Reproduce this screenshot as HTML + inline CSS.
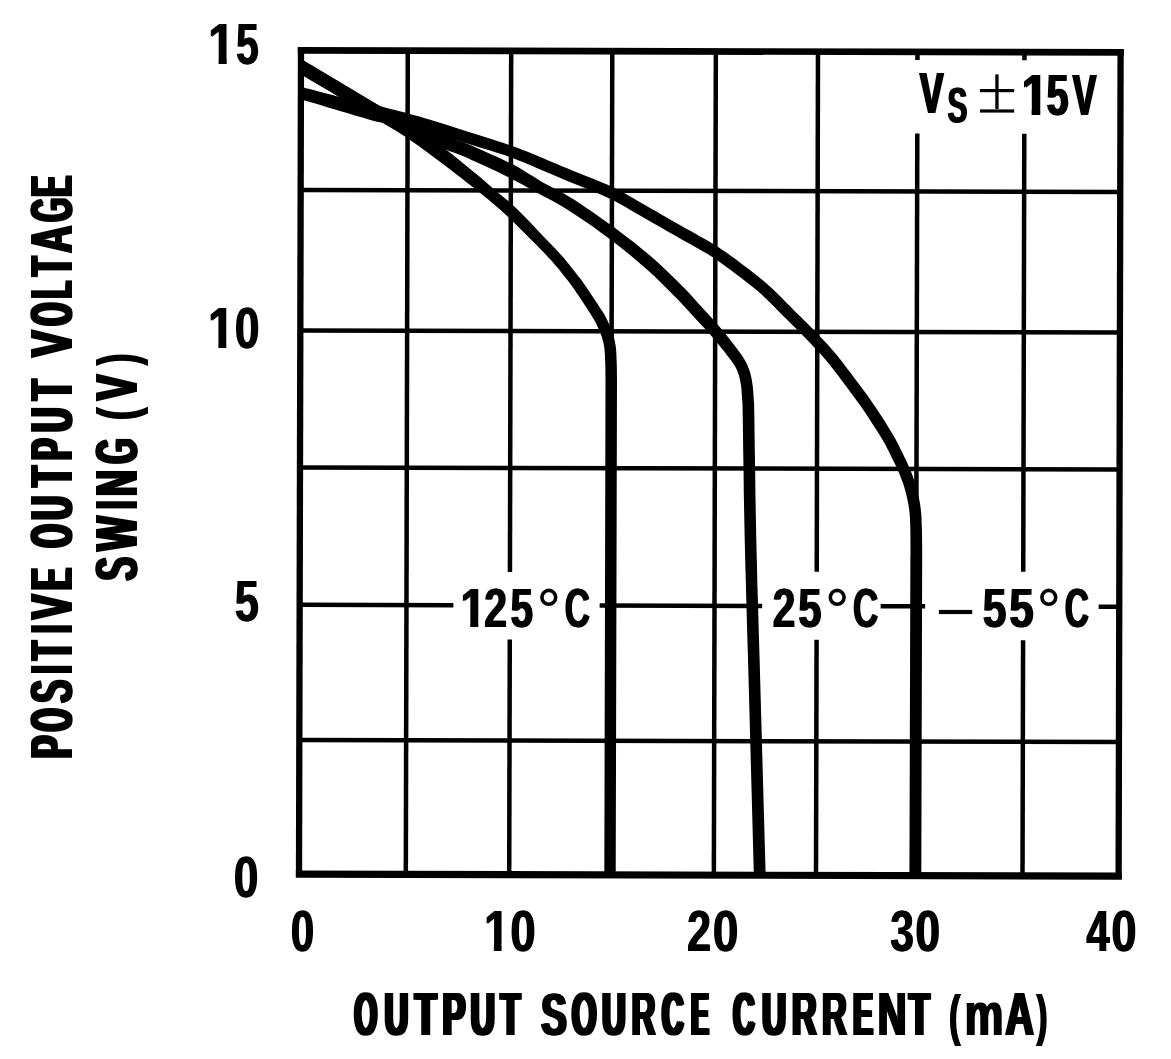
<!DOCTYPE html>
<html><head><meta charset="utf-8"><title>Positive Output Voltage Swing vs Output Source Current</title>
<style>
html,body{margin:0;padding:0;background:#fff;overflow:hidden}
svg{display:block}
text{font-family:"Liberation Sans",sans-serif;font-weight:700;font-size:100px;fill:#000}
</style></head><body>
<svg width="1171" height="1059" viewBox="0 0 1171 1059">
<defs>
<clipPath id="plot"><rect x="300.00" y="51.40" width="819.60" height="826.55"/></clipPath>
<clipPath id="one"><path d="M0 -80H60V-11.2H37.3V2H23.1V-11.2H0Z"/></clipPath>
</defs>
<rect x="0" y="0" width="1171" height="1059" fill="#fff"/>
<g transform="rotate(0.1375 710.0 463.0)" fill="#000">
<rect x="296.85" y="48.25" width="6.30" height="829.70"/>
<rect x="1116.45" y="48.25" width="6.30" height="829.70"/>
<rect x="296.85" y="48.05" width="825.90" height="6.70"/>
<rect x="296.85" y="871.55" width="825.90" height="7.10"/>
<rect x="404.55" y="51.40" width="4.50" height="823.40"/>
<rect x="507.95" y="51.40" width="4.50" height="521.10"/>
<rect x="507.95" y="640.00" width="4.50" height="234.80"/>
<rect x="609.05" y="51.40" width="4.50" height="823.40"/>
<rect x="712.60" y="51.40" width="4.50" height="823.40"/>
<rect x="814.75" y="51.40" width="4.50" height="520.10"/>
<rect x="814.75" y="639.50" width="4.50" height="235.30"/>
<rect x="914.25" y="51.40" width="4.50" height="8.10"/>
<rect x="914.25" y="133.00" width="4.50" height="741.80"/>
<rect x="1021.25" y="51.40" width="4.50" height="8.10"/>
<rect x="1021.25" y="133.00" width="4.50" height="438.00"/>
<rect x="1021.25" y="639.50" width="4.50" height="235.30"/>
<rect x="300.00" y="188.65" width="819.60" height="4.50"/>
<rect x="300.00" y="329.35" width="819.60" height="4.50"/>
<rect x="300.00" y="466.15" width="819.60" height="4.50"/>
<rect x="300.00" y="603.55" width="153.70" height="4.50"/>
<rect x="600.00" y="603.55" width="162.50" height="4.50"/>
<rect x="881.00" y="603.55" width="44.50" height="4.50"/>
<rect x="1099.00" y="603.55" width="20.60" height="4.50"/>
<rect x="300.00" y="738.75" width="819.60" height="4.50"/>
<g fill="#000" stroke="none" clip-path="url(#plot)">
<path d="M295.2 72.2 295.8 72.5 303.0 61.7 295.9 72.6 296.2 72.8 297.5 73.5 300.1 75.1 304.3 77.5 309.6 80.7 315.8 84.4 322.5 88.4 329.3 92.4 335.8 96.3 342.1 100.1 348.7 104.0 355.4 107.9 362.0 111.9 368.4 115.7 374.5 119.4 380.3 122.8 385.7 126.0 390.9 129.0 395.9 132.0 401.0 135.2 406.3 138.6 411.8 142.4 417.6 146.4 423.3 150.6 429.1 154.9 434.8 159.1 440.2 163.2 445.5 167.1 450.8 171.1 455.9 175.1 460.9 178.9 465.5 182.5 469.7 185.8 473.4 188.6 476.5 191.1 479.3 193.4 482.0 195.5 484.7 197.7 487.7 200.1 490.7 202.7 493.6 205.1 496.4 207.5 499.4 210.0 502.6 212.9 506.3 216.3 510.7 220.4 515.6 225.2 520.9 230.4 526.2 235.6 531.1 240.6 535.5 245.0 539.3 248.8 542.6 252.2 545.6 255.4 548.4 258.3 551.1 261.2 553.6 264.0 556.0 266.8 558.2 269.4 560.3 272.0 562.3 274.5 564.1 276.9 565.9 279.2 567.5 281.2 568.8 282.8 569.8 284.2 570.9 285.6 572.3 287.5 574.0 289.9 576.3 293.3 579.1 297.4 582.0 301.9 585.0 306.4 587.7 310.5 589.9 313.9 591.4 316.3 592.6 318.2 593.4 319.5 594.1 320.7 594.8 321.9 595.6 323.4 596.4 325.1 597.3 326.9 598.1 328.7 598.9 330.4 599.7 332.2 600.3 333.8 600.9 335.4 601.4 336.9 601.9 338.4 602.3 339.9 602.7 341.4 603.1 343.0 603.4 344.5 603.7 345.9 603.9 347.3 604.1 348.8 604.3 350.7 604.5 353.1 604.7 356.1 604.8 359.5 605.0 363.3 605.1 367.3 605.2 371.3 605.2 375.3 605.3 379.3 605.3 383.4 605.3 387.6 605.3 391.8 605.3 396.0 605.3 400.2 605.3 877.2 616.7 877.2 616.8 400.2 616.8 396.1 616.8 391.8 616.8 387.6 616.8 383.4 616.8 379.2 616.7 375.1 616.7 371.1 616.6 367.0 616.5 362.9 616.3 359.1 616.2 355.5 616.0 352.3 615.8 349.7 615.6 347.5 615.3 345.6 615.0 343.9 614.7 342.2 614.3 340.5 613.9 338.7 613.4 336.9 612.9 335.1 612.4 333.3 611.7 331.5 611.1 329.7 610.3 327.8 609.5 325.8 608.6 323.9 607.7 321.9 606.7 320.0 605.7 318.1 604.9 316.5 604.1 315.0 603.2 313.6 602.3 312.1 601.0 310.2 599.4 307.7 597.2 304.3 594.5 300.2 591.5 295.7 588.4 291.1 585.6 287.0 583.2 283.5 581.3 280.9 579.8 278.9 578.5 277.3 577.3 275.8 576.1 274.3 574.6 272.4 572.8 270.2 570.9 267.8 568.9 265.2 566.7 262.5 564.4 259.7 561.8 256.7 559.2 253.8 556.5 250.8 553.6 247.8 550.5 244.6 547.1 241.1 543.4 237.3 539.1 232.8 534.2 227.7 529.1 222.3 523.9 217.0 518.9 212.0 514.5 207.6 510.6 204.1 507.1 201.1 503.9 198.4 500.9 196.0 498.0 193.7 495.1 191.3 492.2 188.8 489.6 186.5 487.0 184.2 484.2 181.8 481.1 179.1 477.5 176.1 473.4 172.7 468.8 169.0 463.9 165.0 458.8 160.8 453.5 156.7 448.2 152.5 442.7 148.4 436.9 144.2 431.1 140.0 425.1 135.8 419.2 131.7 413.5 127.8 408.0 124.2 402.7 120.9 397.5 117.8 392.2 114.7 386.9 111.6 381.2 108.2 375.1 104.6 368.7 100.7 362.0 96.8 355.4 92.8 348.8 88.9 342.4 85.1 336.0 81.2 329.2 77.2 322.5 73.2 316.3 69.5 310.9 66.3 306.8 63.9 304.2 62.3 302.8 61.6 302.3 61.2 295.1 72.0 302.2 61.2 301.8 61.0Z"/>
<path d="M295.3 72.8 296.0 73.2 303.4 62.7 296.1 73.2 296.3 73.4 297.6 74.1 300.2 75.6 304.3 78.0 309.7 81.1 315.9 84.7 322.6 88.6 329.4 92.5 335.8 96.3 342.2 100.0 348.8 104.0 355.6 108.1 362.3 112.1 368.7 115.8 374.8 119.1 380.2 121.9 385.2 124.3 389.8 126.4 394.3 128.4 399.0 130.4 404.1 132.7 410.1 135.3 416.7 138.2 423.5 141.2 430.2 144.1 436.4 146.7 441.7 148.9 446.1 150.7 449.8 152.1 452.9 153.2 455.6 154.2 458.2 155.1 460.8 156.1 463.4 157.2 465.7 158.2 467.9 159.1 470.2 160.2 473.0 161.5 476.5 163.1 480.9 165.0 485.9 167.3 491.2 169.7 496.7 172.3 502.1 174.9 507.2 177.4 512.1 179.9 516.9 182.4 521.7 185.0 526.5 187.6 531.4 190.3 536.5 193.1 541.5 195.8 546.3 198.4 551.2 200.9 556.1 203.6 561.3 206.5 566.9 210.0 573.1 214.0 579.9 218.5 587.0 223.4 594.2 228.4 601.2 233.4 607.8 238.2 614.1 243.0 620.2 247.7 626.1 252.4 631.9 257.1 637.5 261.8 643.0 266.6 648.5 271.4 654.0 276.5 659.3 281.6 664.4 286.6 669.2 291.3 673.4 295.5 677.0 299.1 680.0 302.2 682.6 305.0 685.1 307.7 687.7 310.6 690.6 313.7 693.8 317.2 697.1 320.7 700.5 324.4 703.9 328.0 707.1 331.6 710.2 335.0 713.1 338.3 715.9 341.7 718.7 344.9 721.3 348.1 723.8 351.2 726.0 354.1 728.2 356.9 730.1 359.4 731.8 361.8 733.3 364.0 734.7 366.2 735.9 368.3 736.9 370.5 737.8 372.6 738.5 374.7 739.1 376.9 739.7 379.3 740.2 381.9 740.7 384.6 741.1 387.5 741.4 390.6 741.6 393.8 741.8 397.0 742.1 400.3 742.2 402.6 742.3 403.5 742.4 403.8 742.4 405.9 742.5 410.9 742.7 420.0 742.9 434.0 743.2 451.8 743.6 472.5 743.9 494.8 744.4 517.7 744.9 540.0 745.5 562.2 746.2 585.3 746.9 608.8 747.6 632.7 748.4 656.5 749.1 680.1 754.9 877.1 766.7 876.7 760.7 679.7 760.0 656.1 759.2 632.3 758.5 608.5 757.7 584.9 757.1 561.9 756.5 539.8 756.0 517.5 755.5 494.6 755.2 472.3 754.8 451.7 754.5 433.8 754.3 419.8 754.1 410.7 754.0 405.7 754.0 403.4 753.9 402.1 753.8 401.5 753.6 399.5 753.4 396.2 753.2 392.9 752.9 389.5 752.6 386.2 752.1 382.9 751.6 379.7 751.0 376.8 750.3 374.0 749.6 371.3 748.6 368.6 747.5 365.9 746.3 363.1 744.8 360.3 743.1 357.7 741.4 355.0 739.5 352.4 737.5 349.8 735.4 347.0 733.1 343.9 730.6 340.7 728.0 337.4 725.2 334.0 722.3 330.5 719.4 327.0 716.3 323.4 712.9 319.7 709.6 316.0 706.2 312.3 702.8 308.7 699.7 305.3 696.9 302.2 694.3 299.4 691.8 296.6 689.1 293.6 686.0 290.4 682.3 286.6 678.0 282.4 673.2 277.6 668.0 272.6 662.5 267.4 656.9 262.2 651.2 257.1 645.5 252.3 639.7 247.6 633.7 242.8 627.6 238.1 621.3 233.4 614.9 228.6 608.1 223.7 601.0 218.7 593.8 213.6 586.6 208.7 579.7 204.0 573.3 199.9 567.3 196.3 561.9 193.2 556.7 190.4 551.8 187.9 547.0 185.4 542.2 182.8 537.4 179.9 532.7 177.0 528.0 174.1 523.2 171.2 518.4 168.3 513.4 165.5 508.0 162.9 502.4 160.2 496.7 157.6 491.3 155.2 486.3 153.0 482.0 151.0 478.5 149.5 475.6 148.2 473.1 147.1 470.8 146.1 468.4 145.1 465.7 144.1 462.7 142.9 460.0 141.9 457.2 141.0 454.3 139.9 450.9 138.6 446.7 136.9 441.5 134.7 435.4 132.1 428.7 129.3 421.9 126.3 415.4 123.4 409.4 120.8 404.2 118.5 399.5 116.4 395.0 114.5 390.7 112.5 386.1 110.3 380.9 107.7 375.1 104.5 368.8 100.8 362.2 96.9 355.5 92.9 348.8 88.9 342.4 85.1 335.9 81.3 329.1 77.4 322.4 73.5 316.2 69.9 310.8 66.7 306.7 64.3 304.1 62.8 302.8 62.1 302.1 61.7 294.6 72.2 302.0 61.7 301.8 61.5Z"/>
<path d="M297.2 99.7 298.2 99.9 300.2 99.9 298.4 99.9 298.5 99.9 299.6 100.2 301.9 100.9 305.5 101.9 310.0 103.3 315.3 104.8 321.1 106.5 327.2 108.3 333.4 110.1 340.0 112.1 347.2 114.2 354.8 116.5 362.4 118.7 369.5 120.8 376.0 122.6 381.9 123.6 387.1 124.3 391.8 124.8 396.2 125.3 400.6 125.8 405.3 126.6 410.3 127.8 415.4 129.1 420.6 130.5 426.0 132.0 431.6 133.6 437.5 135.3 443.8 137.1 450.6 139.2 457.6 141.3 464.5 143.5 471.3 145.6 477.5 147.5 483.3 149.3 488.6 150.9 493.7 152.5 498.7 154.0 503.5 155.6 508.4 157.3 513.2 159.0 518.0 160.9 522.7 162.8 527.4 164.7 532.2 166.7 537.1 168.8 542.0 170.8 546.8 172.8 551.6 174.9 556.7 177.1 562.0 179.4 567.8 181.8 574.2 184.4 581.1 187.1 588.2 189.9 595.3 192.8 602.2 195.7 608.7 198.7 614.9 201.8 620.9 205.0 626.9 208.4 632.7 211.9 638.5 215.2 644.2 218.5 649.7 221.6 655.1 224.7 660.4 227.7 665.5 230.6 670.3 233.4 674.9 235.9 679.1 238.3 683.0 240.5 686.7 242.5 690.2 244.4 693.4 246.3 696.6 248.1 699.6 249.7 702.1 251.2 704.5 252.5 706.8 253.8 709.3 255.4 712.3 257.3 715.7 259.7 719.5 262.3 723.6 265.2 727.7 268.2 731.9 271.3 736.0 274.4 740.2 277.5 744.3 280.6 748.4 283.8 752.6 287.1 756.7 290.5 760.7 294.0 764.8 297.8 769.1 301.8 773.3 306.1 777.5 310.3 781.6 314.5 785.6 318.4 789.2 322.0 792.6 325.4 795.9 328.6 799.1 331.8 802.3 335.0 805.5 338.3 808.9 341.8 812.2 345.2 815.6 348.7 818.9 352.2 822.1 355.8 825.3 359.5 828.5 363.3 831.6 367.2 834.7 371.2 837.9 375.3 841.0 379.5 844.2 383.7 847.4 387.9 850.5 392.1 853.7 396.3 856.8 400.6 860.0 404.9 863.1 409.4 866.3 414.2 869.7 419.3 873.1 424.5 876.4 429.6 879.4 434.4 882.0 438.6 884.1 442.1 885.8 445.2 887.2 448.0 888.6 450.6 889.9 453.3 891.3 456.2 892.7 459.0 894.1 461.9 895.5 464.6 896.8 467.3 898.0 470.1 899.2 472.8 900.3 475.5 901.3 478.2 902.3 480.9 903.3 483.6 904.2 486.4 905.0 489.1 905.8 492.0 906.5 494.8 907.2 497.7 907.8 500.6 908.4 503.5 908.9 506.4 909.3 509.2 909.6 511.8 909.8 514.4 910.1 517.3 910.2 520.7 910.4 524.7 910.5 529.5 910.6 535.1 910.6 541.1 910.7 547.3 910.7 553.5 910.6 559.5 910.4 876.5 922.3 876.5 922.4 559.5 922.4 553.5 922.4 547.2 922.3 541.0 922.2 534.9 922.1 529.3 921.9 524.3 921.7 520.1 921.6 516.6 921.4 513.5 921.1 510.6 920.8 507.7 920.3 504.6 919.8 501.4 919.2 498.2 918.5 495.1 917.8 492.0 917.0 488.9 916.1 485.9 915.2 482.9 914.3 479.9 913.2 477.0 912.2 474.1 911.1 471.2 909.9 468.3 908.6 465.4 907.3 462.5 905.9 459.6 904.5 456.7 903.1 453.8 901.7 450.9 900.3 448.2 899.0 445.5 897.6 442.7 896.0 439.7 894.1 436.4 891.9 432.6 889.2 428.2 886.2 423.4 882.9 418.2 879.4 412.9 876.0 407.7 872.6 402.8 869.4 398.2 866.2 393.7 863.0 389.4 859.8 385.1 856.6 380.9 853.4 376.7 850.3 372.5 847.1 368.3 843.9 364.1 840.7 360.0 837.5 355.9 834.2 352.0 830.8 348.1 827.4 344.3 824.0 340.7 820.6 337.2 817.2 333.7 813.9 330.2 810.5 326.8 807.3 323.6 804.1 320.4 800.8 317.1 797.3 313.8 793.7 310.2 789.9 306.3 785.8 302.2 781.5 297.9 777.2 293.6 772.8 289.3 768.4 285.3 764.1 281.6 759.8 278.1 755.6 274.7 751.3 271.4 747.2 268.2 743.0 265.1 738.8 262.0 734.6 258.8 730.3 255.7 726.2 252.8 722.3 250.1 718.7 247.7 715.5 245.6 712.7 243.9 710.2 242.4 707.8 241.0 705.2 239.6 702.4 238.0 699.1 236.2 695.8 234.3 692.3 232.4 688.7 230.3 684.8 228.2 680.6 225.8 676.1 223.3 671.2 220.5 666.1 217.6 660.8 214.6 655.4 211.5 649.8 208.4 644.3 205.2 638.6 201.9 632.7 198.4 626.6 194.9 620.3 191.5 613.8 188.2 606.9 185.1 599.7 182.0 592.5 179.1 585.3 176.3 578.5 173.6 572.2 171.1 566.5 168.7 561.2 166.5 556.1 164.3 551.2 162.3 546.4 160.3 541.4 158.2 536.5 156.2 531.7 154.3 526.9 152.3 522.1 150.4 517.2 148.5 512.1 146.7 507.1 144.9 502.1 143.3 497.1 141.7 492.0 140.1 486.6 138.4 480.9 136.6 474.7 134.6 468.0 132.5 461.0 130.3 454.0 128.1 447.2 126.0 440.9 124.0 435.0 122.2 429.4 120.5 424.0 118.9 418.7 117.3 413.4 115.9 408.2 114.5 403.2 113.1 398.6 111.9 394.2 110.8 389.7 109.7 385.0 108.5 379.7 107.0 373.3 105.7 366.1 104.1 358.5 102.4 350.9 100.6 343.5 98.9 336.8 97.3 330.6 95.7 324.5 94.1 318.7 92.6 313.4 91.2 308.8 90.0 305.1 89.1 302.7 88.4 301.3 88.1 300.3 87.9 298.3 87.9 300.1 87.9 300.0 87.9Z"/>
</g>
</g>
<g fill="#000" opacity="0.999">
<text clip-path="url(#one)" transform="matrix(0.4797 0 0 0.5712 207.52 64.20)">1</text>
<text clip-path="url(#one)" transform="matrix(0.4797 0 0 0.5712 208.82 64.20)">1</text>
<text transform="matrix(0.4060 0 0 0.5712 235.55 64.20)">5</text>
<text transform="matrix(0.4060 0 0 0.5712 236.85 64.20)">5</text>
<text clip-path="url(#one)" transform="matrix(0.4665 0 0 0.5785 207.61 347.70)">1</text>
<text clip-path="url(#one)" transform="matrix(0.4665 0 0 0.5785 208.91 347.70)">1</text>
<text transform="matrix(0.4416 0 0 0.5785 234.25 347.70)">0</text>
<text transform="matrix(0.4416 0 0 0.5785 235.55 347.70)">0</text>
<text transform="matrix(0.4301 0 0 0.5727 234.28 621.30)">5</text>
<text transform="matrix(0.4301 0 0 0.5727 235.58 621.30)">5</text>
<text transform="matrix(0.4395 0 0 0.5785 233.26 896.70)">0</text>
<text transform="matrix(0.4395 0 0 0.5785 234.56 896.70)">0</text>
<text transform="matrix(0.4184 0 0 0.5785 290.25 950.60)">0</text>
<text transform="matrix(0.4184 0 0 0.5785 291.55 950.60)">0</text>
<text clip-path="url(#one)" transform="matrix(0.4533 0 0 0.5785 483.40 950.60)">1</text>
<text clip-path="url(#one)" transform="matrix(0.4533 0 0 0.5785 484.70 950.60)">1</text>
<text transform="matrix(0.4542 0 0 0.5785 509.70 950.60)">0</text>
<text transform="matrix(0.4542 0 0 0.5785 511.00 950.60)">0</text>
<text transform="matrix(0.4300 0 0 0.5785 686.51 950.60)">2</text>
<text transform="matrix(0.4300 0 0 0.5785 687.81 950.60)">2</text>
<text transform="matrix(0.4584 0 0 0.5785 712.19 950.60)">0</text>
<text transform="matrix(0.4584 0 0 0.5785 713.49 950.60)">0</text>
<text transform="matrix(0.4225 0 0 0.5785 889.73 950.60)">3</text>
<text transform="matrix(0.4225 0 0 0.5785 891.03 950.60)">3</text>
<text transform="matrix(0.4395 0 0 0.5785 914.86 950.60)">0</text>
<text transform="matrix(0.4395 0 0 0.5785 916.16 950.60)">0</text>
<text transform="matrix(0.4145 0 0 0.5785 1085.87 950.60)">4</text>
<text transform="matrix(0.4145 0 0 0.5785 1087.17 950.60)">4</text>
<text transform="matrix(0.4521 0 0 0.5785 1110.71 950.60)">0</text>
<text transform="matrix(0.4521 0 0 0.5785 1112.01 950.60)">0</text>
<text transform="matrix(0.2936 0 0 0.6018 352.40 1035.20)">O</text>
<text transform="matrix(0.2936 0 0 0.6018 354.30 1035.20)">O</text>
<text transform="matrix(0.2936 0 0 0.6018 356.20 1035.20)">O</text>
<text transform="matrix(0.3277 0 0 0.6018 382.63 1035.20)">U</text>
<text transform="matrix(0.3277 0 0 0.6018 384.53 1035.20)">U</text>
<text transform="matrix(0.3277 0 0 0.6018 386.43 1035.20)">U</text>
<text transform="matrix(0.3515 0 0 0.6018 413.11 1035.20)">T</text>
<text transform="matrix(0.3515 0 0 0.6018 415.01 1035.20)">T</text>
<text transform="matrix(0.3515 0 0 0.6018 416.91 1035.20)">T</text>
<text transform="matrix(0.3410 0 0 0.6018 440.72 1035.20)">P</text>
<text transform="matrix(0.3410 0 0 0.6018 442.62 1035.20)">P</text>
<text transform="matrix(0.3410 0 0 0.6018 444.52 1035.20)">P</text>
<text transform="matrix(0.3361 0 0 0.6018 468.78 1035.20)">U</text>
<text transform="matrix(0.3361 0 0 0.6018 470.68 1035.20)">U</text>
<text transform="matrix(0.3361 0 0 0.6018 472.58 1035.20)">U</text>
<text transform="matrix(0.3227 0 0 0.6018 498.64 1035.20)">T</text>
<text transform="matrix(0.3227 0 0 0.6018 500.54 1035.20)">T</text>
<text transform="matrix(0.3227 0 0 0.6018 502.44 1035.20)">T</text>
<text transform="matrix(0.3789 0 0 0.6018 539.81 1035.20)">S</text>
<text transform="matrix(0.3789 0 0 0.6018 541.41 1035.20)">S</text>
<text transform="matrix(0.3789 0 0 0.6018 543.01 1035.20)">S</text>
<text transform="matrix(0.3166 0 0 0.6018 569.90 1035.20)">O</text>
<text transform="matrix(0.3166 0 0 0.6018 571.80 1035.20)">O</text>
<text transform="matrix(0.3166 0 0 0.6018 573.70 1035.20)">O</text>
<text transform="matrix(0.3261 0 0 0.6018 600.24 1035.20)">U</text>
<text transform="matrix(0.3261 0 0 0.6018 602.14 1035.20)">U</text>
<text transform="matrix(0.3261 0 0 0.6018 604.04 1035.20)">U</text>
<text transform="matrix(0.3324 0 0 0.6018 629.88 1035.20)">R</text>
<text transform="matrix(0.3324 0 0 0.6018 631.48 1035.20)">R</text>
<text transform="matrix(0.3324 0 0 0.6018 633.08 1035.20)">R</text>
<text transform="matrix(0.2983 0 0 0.6018 660.08 1035.20)">C</text>
<text transform="matrix(0.2983 0 0 0.6018 661.98 1035.20)">C</text>
<text transform="matrix(0.2983 0 0 0.6018 663.88 1035.20)">C</text>
<text transform="matrix(0.2602 0 0 0.6018 689.36 1035.20)">E</text>
<text transform="matrix(0.2602 0 0 0.6018 691.26 1035.20)">E</text>
<text transform="matrix(0.2602 0 0 0.6018 693.16 1035.20)">E</text>
<text transform="matrix(0.2983 0 0 0.6018 731.28 1035.20)">C</text>
<text transform="matrix(0.2983 0 0 0.6018 733.18 1035.20)">C</text>
<text transform="matrix(0.2983 0 0 0.6018 735.08 1035.20)">C</text>
<text transform="matrix(0.3311 0 0 0.6018 760.31 1035.20)">U</text>
<text transform="matrix(0.3311 0 0 0.6018 762.21 1035.20)">U</text>
<text transform="matrix(0.3311 0 0 0.6018 764.11 1035.20)">U</text>
<text transform="matrix(0.3434 0 0 0.6018 790.20 1035.20)">R</text>
<text transform="matrix(0.3434 0 0 0.6018 791.80 1035.20)">R</text>
<text transform="matrix(0.3434 0 0 0.6018 793.40 1035.20)">R</text>
<text transform="matrix(0.3434 0 0 0.6018 820.40 1035.20)">R</text>
<text transform="matrix(0.3434 0 0 0.6018 822.00 1035.20)">R</text>
<text transform="matrix(0.3434 0 0 0.6018 823.60 1035.20)">R</text>
<text transform="matrix(0.2959 0 0 0.6018 851.22 1035.20)">E</text>
<text transform="matrix(0.2959 0 0 0.6018 853.12 1035.20)">E</text>
<text transform="matrix(0.2959 0 0 0.6018 855.02 1035.20)">E</text>
<text transform="matrix(0.3946 0 0 0.6018 876.46 1035.20)">N</text>
<text transform="matrix(0.3946 0 0 0.6018 877.86 1035.20)">N</text>
<text transform="matrix(0.3946 0 0 0.6018 879.26 1035.20)">N</text>
<text transform="matrix(0.3311 0 0 0.6018 907.33 1035.20)">T</text>
<text transform="matrix(0.3311 0 0 0.6018 909.23 1035.20)">T</text>
<text transform="matrix(0.3311 0 0 0.6018 911.13 1035.20)">T</text>
<text transform="matrix(0.4348 0 0 0.6018 963.83 1035.20)">m</text>
<text transform="matrix(0.4348 0 0 0.6018 965.83 1035.20)">m</text>
<text transform="matrix(0.3905 0 0 0.6018 1004.03 1035.20)">A</text>
<text transform="matrix(0.3905 0 0 0.6018 1005.53 1035.20)">A</text>
<text transform="matrix(0.3905 0 0 0.6018 1007.03 1035.20)">A</text>
<text transform="matrix(0.3437 0 0 0.5600 948.19 1034.08)">(</text>
<text transform="matrix(0.3437 0 0 0.5600 949.79 1034.08)">(</text>
<text transform="matrix(0.3224 0 0 0.5600 1035.87 1034.08)">)</text>
<text transform="matrix(0.3224 0 0 0.5600 1037.47 1034.08)">)</text>
<text clip-path="url(#one)" transform="matrix(0.4533 0 0 0.5640 459.80 626.90)">1</text>
<text clip-path="url(#one)" transform="matrix(0.4533 0 0 0.5640 461.40 626.90)">1</text>
<text transform="matrix(0.4092 0 0 0.5640 483.38 626.90)">2</text>
<text transform="matrix(0.4092 0 0 0.5640 484.98 626.90)">2</text>
<text transform="matrix(0.4060 0 0 0.5640 509.75 626.90)">5</text>
<text transform="matrix(0.4060 0 0 0.5640 511.35 626.90)">5</text>
<text transform="matrix(0.3487 0 0 0.5640 563.97 626.90)">C</text>
<text transform="matrix(0.3487 0 0 0.5640 565.57 626.90)">C</text>
<text transform="matrix(0.4050 0 0 0.5640 771.90 626.90)">2</text>
<text transform="matrix(0.4050 0 0 0.5640 773.50 626.90)">2</text>
<text transform="matrix(0.4140 0 0 0.5640 797.53 626.90)">5</text>
<text transform="matrix(0.4140 0 0 0.5640 799.13 626.90)">5</text>
<text transform="matrix(0.3503 0 0 0.5640 852.16 626.90)">C</text>
<text transform="matrix(0.3503 0 0 0.5640 853.76 626.90)">C</text>
<text transform="matrix(0.4261 0 0 0.5640 981.99 626.90)">5</text>
<text transform="matrix(0.4261 0 0 0.5640 983.59 626.90)">5</text>
<text transform="matrix(0.4361 0 0 0.5640 1008.56 626.90)">5</text>
<text transform="matrix(0.4361 0 0 0.5640 1010.16 626.90)">5</text>
<text transform="matrix(0.3319 0 0 0.5640 1064.04 626.90)">C</text>
<text transform="matrix(0.3319 0 0 0.5640 1065.64 626.90)">C</text>
<text transform="matrix(0.3536 0 0 0.5785 918.66 113.30)">V</text>
<text transform="matrix(0.3536 0 0 0.5785 921.06 113.30)">V</text>
<text transform="matrix(0.2954 0 0 0.4943 946.85 122.72)">S</text>
<text transform="matrix(0.2954 0 0 0.4943 948.45 122.72)">S</text>
<text clip-path="url(#one)" transform="matrix(0.4731 0 0 0.5756 1020.67 114.80)">1</text>
<text clip-path="url(#one)" transform="matrix(0.4731 0 0 0.5756 1022.67 114.80)">1</text>
<text transform="matrix(0.3899 0 0 0.5756 1045.70 114.80)">5</text>
<text transform="matrix(0.3899 0 0 0.5756 1047.70 114.80)">5</text>
<text transform="matrix(0.3536 0 0 0.5756 1071.76 114.80)">V</text>
<text transform="matrix(0.3536 0 0 0.5756 1073.76 114.80)">V</text>
<circle cx="548.8" cy="597.3" r="6.9" fill="none" stroke="#000" stroke-width="3.6"/>
<circle cx="837.2" cy="597.3" r="6.9" fill="none" stroke="#000" stroke-width="3.6"/>
<circle cx="1048.8" cy="597.3" r="6.9" fill="none" stroke="#000" stroke-width="3.6"/>
<rect x="938.9" y="609.9" width="33.3" height="4.2"/>
<rect x="995.3" y="74.4" width="3.3" height="34.6"/>
<rect x="980.0" y="89.0" width="34.2" height="3.2"/>
<rect x="980.0" y="109.4" width="34.2" height="3.2"/>
</g>
<g transform="translate(0 1059.0) rotate(-90)" opacity="0.999">
<text transform="matrix(0.3357 0 0 0.5872 299.05 71.90)">P</text>
<text transform="matrix(0.3357 0 0 0.5872 300.95 71.90)">P</text>
<text transform="matrix(0.3357 0 0 0.5872 302.85 71.90)">P</text>
<text transform="matrix(0.2893 0 0 0.5872 326.01 71.90)">O</text>
<text transform="matrix(0.2893 0 0 0.5872 327.91 71.90)">O</text>
<text transform="matrix(0.2893 0 0 0.5872 329.81 71.90)">O</text>
<text transform="matrix(0.3388 0 0 0.5872 354.72 71.90)">S</text>
<text transform="matrix(0.3388 0 0 0.5872 356.32 71.90)">S</text>
<text transform="matrix(0.3388 0 0 0.5872 357.92 71.90)">S</text>
<text transform="matrix(0.2222 0 0 0.5872 384.61 71.90)">I</text>
<text transform="matrix(0.2222 0 0 0.5872 386.51 71.90)">I</text>
<text transform="matrix(0.2222 0 0 0.5872 388.41 71.90)">I</text>
<text transform="matrix(0.2989 0 0 0.5872 397.56 71.90)">T</text>
<text transform="matrix(0.2989 0 0 0.5872 399.46 71.90)">T</text>
<text transform="matrix(0.2989 0 0 0.5872 401.36 71.90)">T</text>
<text transform="matrix(0.2222 0 0 0.5872 425.11 71.90)">I</text>
<text transform="matrix(0.2222 0 0 0.5872 427.01 71.90)">I</text>
<text transform="matrix(0.2222 0 0 0.5872 428.91 71.90)">I</text>
<text transform="matrix(0.3735 0 0 0.5872 438.14 71.90)">V</text>
<text transform="matrix(0.3735 0 0 0.5872 439.64 71.90)">V</text>
<text transform="matrix(0.3735 0 0 0.5872 441.14 71.90)">V</text>
<text transform="matrix(0.3208 0 0 0.5872 467.35 71.90)">E</text>
<text transform="matrix(0.3208 0 0 0.5872 469.25 71.90)">E</text>
<text transform="matrix(0.3208 0 0 0.5872 471.15 71.90)">E</text>
<text transform="matrix(0.2950 0 0 0.5872 509.79 71.90)">O</text>
<text transform="matrix(0.2950 0 0 0.5872 511.69 71.90)">O</text>
<text transform="matrix(0.2950 0 0 0.5872 513.59 71.90)">O</text>
<text transform="matrix(0.3261 0 0 0.5872 537.54 71.90)">U</text>
<text transform="matrix(0.3261 0 0 0.5872 539.44 71.90)">U</text>
<text transform="matrix(0.3261 0 0 0.5872 541.34 71.90)">U</text>
<text transform="matrix(0.3244 0 0 0.5872 570.84 71.90)">T</text>
<text transform="matrix(0.3244 0 0 0.5872 572.74 71.90)">T</text>
<text transform="matrix(0.3244 0 0 0.5872 574.64 71.90)">T</text>
<text transform="matrix(0.3181 0 0 0.5872 597.17 71.90)">P</text>
<text transform="matrix(0.3181 0 0 0.5872 599.07 71.90)">P</text>
<text transform="matrix(0.3181 0 0 0.5872 600.97 71.90)">P</text>
<text transform="matrix(0.3344 0 0 0.5872 625.29 71.90)">U</text>
<text transform="matrix(0.3344 0 0 0.5872 627.19 71.90)">U</text>
<text transform="matrix(0.3344 0 0 0.5872 629.09 71.90)">U</text>
<text transform="matrix(0.3294 0 0 0.5872 657.13 71.90)">T</text>
<text transform="matrix(0.3294 0 0 0.5872 659.03 71.90)">T</text>
<text transform="matrix(0.3294 0 0 0.5872 660.93 71.90)">T</text>
<text transform="matrix(0.3995 0 0 0.5872 700.53 71.90)">V</text>
<text transform="matrix(0.3995 0 0 0.5872 702.03 71.90)">V</text>
<text transform="matrix(0.3995 0 0 0.5872 703.53 71.90)">V</text>
<text transform="matrix(0.2893 0 0 0.5872 731.81 71.90)">O</text>
<text transform="matrix(0.2893 0 0 0.5872 733.71 71.90)">O</text>
<text transform="matrix(0.2893 0 0 0.5872 735.61 71.90)">O</text>
<text transform="matrix(0.2689 0 0 0.5872 759.30 71.90)">L</text>
<text transform="matrix(0.2689 0 0 0.5872 761.20 71.90)">L</text>
<text transform="matrix(0.2689 0 0 0.5872 763.10 71.90)">L</text>
<text transform="matrix(0.3057 0 0 0.5872 781.46 71.90)">T</text>
<text transform="matrix(0.3057 0 0 0.5872 783.36 71.90)">T</text>
<text transform="matrix(0.3057 0 0 0.5872 785.26 71.90)">T</text>
<text transform="matrix(0.3741 0 0 0.5872 804.77 71.90)">A</text>
<text transform="matrix(0.3741 0 0 0.5872 806.27 71.90)">A</text>
<text transform="matrix(0.3741 0 0 0.5872 807.77 71.90)">A</text>
<text transform="matrix(0.3068 0 0 0.5872 835.64 71.90)">G</text>
<text transform="matrix(0.3068 0 0 0.5872 837.24 71.90)">G</text>
<text transform="matrix(0.3068 0 0 0.5872 838.84 71.90)">G</text>
<text transform="matrix(0.3030 0 0 0.5872 860.77 71.90)">E</text>
<text transform="matrix(0.3030 0 0 0.5872 862.67 71.90)">E</text>
<text transform="matrix(0.3030 0 0 0.5872 864.57 71.90)">E</text>
<text transform="matrix(0.3472 0 0 0.5901 477.00 136.90)">S</text>
<text transform="matrix(0.3472 0 0 0.5901 478.60 136.90)">S</text>
<text transform="matrix(0.3472 0 0 0.5901 480.20 136.90)">S</text>
<text transform="matrix(0.3684 0 0 0.5901 506.86 136.90)">W</text>
<text transform="matrix(0.3684 0 0 0.5901 508.16 136.90)">W</text>
<text transform="matrix(0.3684 0 0 0.5901 509.46 136.90)">W</text>
<text transform="matrix(0.2360 0 0 0.5901 548.92 136.90)">I</text>
<text transform="matrix(0.2360 0 0 0.5901 550.82 136.90)">I</text>
<text transform="matrix(0.2360 0 0 0.5901 552.72 136.90)">I</text>
<text transform="matrix(0.3589 0 0 0.5901 561.60 136.90)">N</text>
<text transform="matrix(0.3589 0 0 0.5901 563.00 136.90)">N</text>
<text transform="matrix(0.3589 0 0 0.5901 564.40 136.90)">N</text>
<text transform="matrix(0.3231 0 0 0.5901 593.77 136.90)">G</text>
<text transform="matrix(0.3231 0 0 0.5901 595.37 136.90)">G</text>
<text transform="matrix(0.3231 0 0 0.5901 596.97 136.90)">G</text>
<text transform="matrix(0.3827 0 0 0.5901 657.24 136.90)">V</text>
<text transform="matrix(0.3827 0 0 0.5901 658.74 136.90)">V</text>
<text transform="matrix(0.3827 0 0 0.5901 660.24 136.90)">V</text>
<text transform="matrix(0.3862 0 0 0.5482 637.88 135.52)">(</text>
<text transform="matrix(0.3862 0 0 0.5482 639.48 135.52)">(</text>
<text transform="matrix(0.3508 0 0 0.5482 692.97 135.52)">)</text>
<text transform="matrix(0.3508 0 0 0.5482 694.57 135.52)">)</text>
</g>
</svg>
</body></html>
